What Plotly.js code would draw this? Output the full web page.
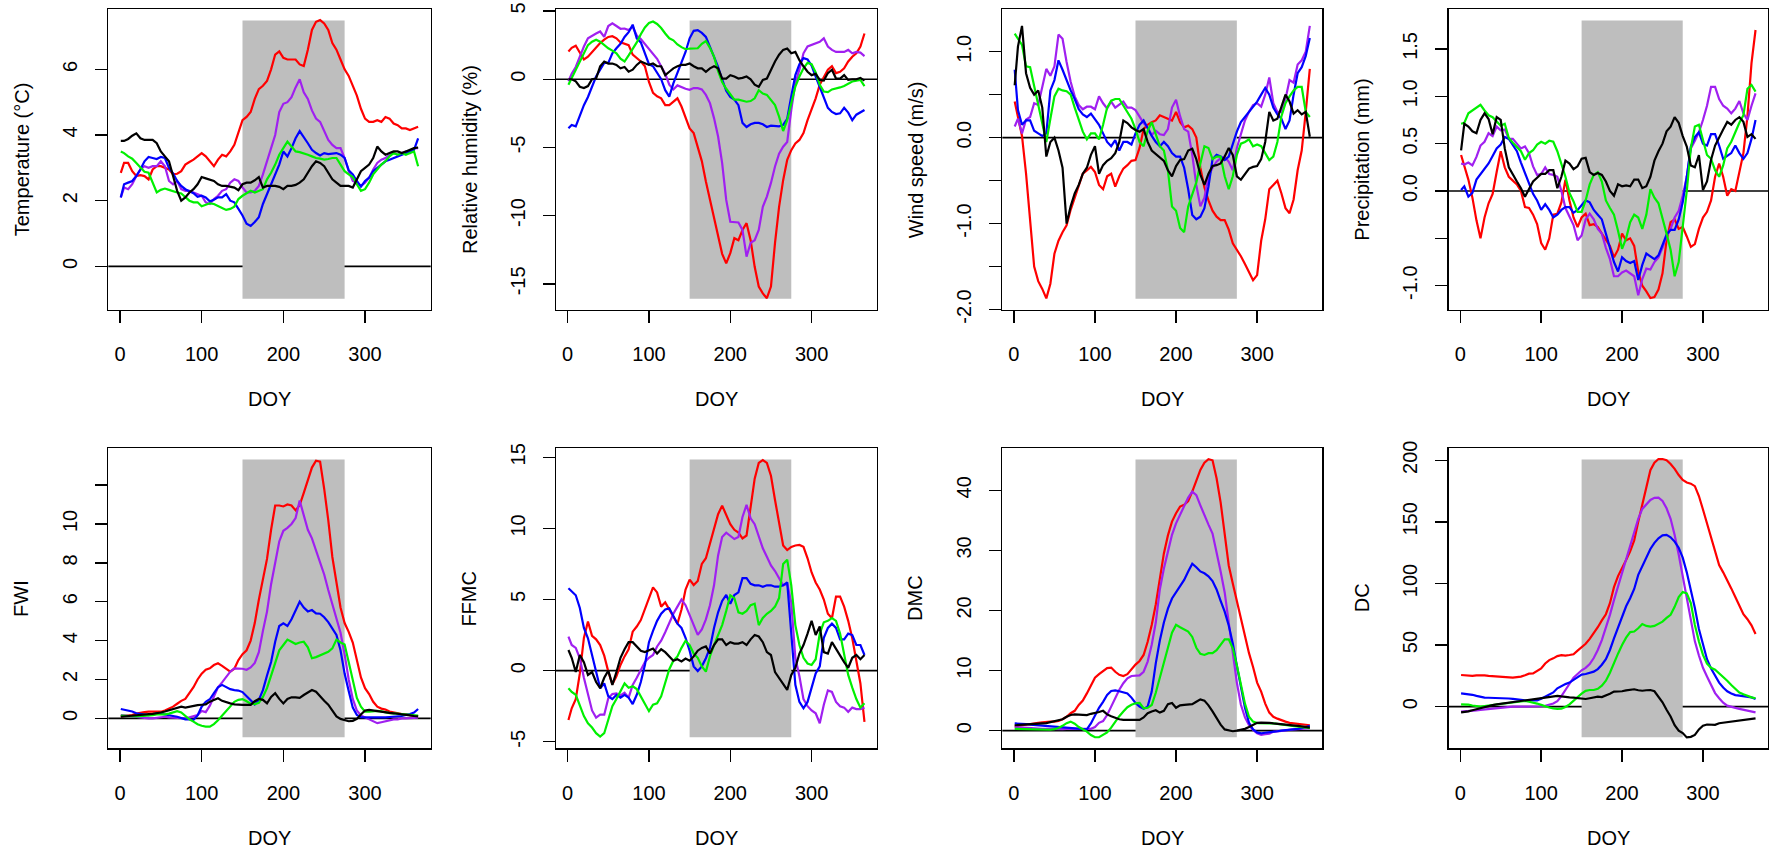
<!DOCTYPE html>
<html>
<head>
<meta charset="utf-8">
<script src="https://cdn.plot.ly/plotly-3.0.1.min.js"></script>
<style>
  html, body { margin: 0; padding: 0; background: #ffffff; }
  #chart { width: 1769px; height: 850px; }
</style>
</head>
<body>
<div id="chart"></div>
<script>
// ---------------- DATA ----------------
const DOY = [1,5,10,15,20,25,30,35,40,45,50,55,60,65,70,75,80,85,90,95,100,105,110,115,120,125,130,135,140,145,150,155,160,165,170,175,180,185,190,195,200,205,210,215,220,225,230,235,240,245,250,255,260,265,270,275,280,285,290,295,300,305,310,315,320,325,330,335,340,345,350,355,360,365];
const fireSeason = [150, 275];

const doyTicks = [0, 100, 200, 300];
const doyTickLabels = ['0', '100', '200', '300'];

// Temperature (°C)
const tempRed = [2.85,3.15,3.15,2.9,2.75,2.78,2.75,2.65,2.95,3.05,3.05,3.0,2.95,2.8,2.82,2.9,3.1,3.18,3.25,3.35,3.45,3.35,3.2,3.05,3.25,3.4,3.35,3.5,3.7,4.1,4.45,4.55,4.7,5.1,5.4,5.5,5.65,6.0,6.45,6.55,6.35,6.3,6.3,6.3,6.15,6.1,6.6,7.2,7.45,7.5,7.4,7.2,6.8,6.6,6.3,6.0,5.8,5.5,5.2,4.8,4.5,4.4,4.4,4.45,4.4,4.55,4.5,4.35,4.3,4.2,4.2,4.15,4.2,4.25];
const tempPurple = [2.1,2.4,2.35,2.5,2.75,2.95,3.05,3.0,3.05,3.05,3.2,3.05,2.6,2.5,2.6,2.35,2.3,2.3,2.25,2.2,2.15,1.95,1.9,2.05,2.15,2.3,2.35,2.55,2.65,2.6,2.4,2.25,2.25,2.3,2.45,2.8,3.2,3.65,4.0,4.7,4.95,5.0,5.15,5.45,5.7,5.3,5.1,4.75,4.5,4.4,4.1,3.85,3.7,3.6,3.6,3.3,2.9,2.6,2.55,2.45,2.55,2.7,2.95,3.15,3.25,3.3,3.4,3.45,3.4,3.45,3.5,3.45,3.6,3.6];
const tempBlue = [2.1,2.5,2.55,2.6,2.75,2.95,3.2,3.33,3.3,3.27,3.33,3.3,3.0,2.83,2.6,2.45,2.35,2.3,2.23,2.12,2.15,2.1,1.98,2.03,2.1,2.1,2.2,2.0,1.95,1.75,1.55,1.3,1.23,1.35,1.5,1.9,2.2,2.45,2.8,3.1,3.5,3.35,3.6,3.9,4.12,3.95,3.75,3.55,3.45,3.38,3.45,3.42,3.43,3.45,3.4,3.3,2.93,2.8,2.6,2.43,2.6,2.7,2.9,3.0,3.1,3.2,3.25,3.3,3.35,3.4,3.45,3.5,3.55,3.9];
const tempGreen = [3.5,3.45,3.35,3.28,3.15,3.0,2.88,2.85,2.55,2.25,2.33,2.37,2.33,2.28,2.25,2.22,2.1,2.0,1.95,1.95,1.83,1.88,1.92,1.9,1.85,1.78,1.72,1.75,1.82,2.05,2.15,2.22,2.3,2.25,2.3,2.35,2.65,2.85,3.1,3.4,3.6,3.8,3.65,3.5,3.48,3.45,3.4,3.35,3.3,3.28,3.25,3.27,3.3,3.3,3.1,2.9,2.8,2.72,2.5,2.3,2.35,2.55,2.8,2.95,3.1,3.2,3.35,3.45,3.4,3.45,3.4,3.45,3.5,3.05];
const tempBlack = [3.82,3.82,3.88,3.98,4.05,3.9,3.85,3.85,3.85,3.75,3.5,3.35,3.2,2.75,2.3,2.0,2.1,2.25,2.35,2.5,2.72,2.68,2.65,2.6,2.5,2.45,2.45,2.42,2.4,2.32,2.5,2.55,2.55,2.62,2.72,2.4,2.45,2.45,2.45,2.42,2.35,2.45,2.45,2.48,2.55,2.65,2.85,3.05,3.2,3.15,3.05,2.85,2.65,2.55,2.45,2.45,2.45,2.4,2.65,2.9,3.0,3.1,3.3,3.65,3.5,3.4,3.45,3.5,3.5,3.45,3.5,3.55,3.6,3.62];
const tempTicks = [0, 2, 4, 6];
const tempTickLabels = ['0', '2', '4', '6'];

// Relative humidity (%)
const rhRed = [2.03,2.3,2.45,1.9,1.45,1.65,2.0,2.3,2.65,2.9,3.1,3.15,3.0,2.7,2.6,2.5,1.8,1.55,1.3,0.95,-0.2,-1.0,-1.25,-1.4,-1.9,-1.9,-1.65,-1.4,-2.0,-2.75,-3.6,-3.95,-4.95,-6.0,-7.5,-8.8,-10.0,-11.5,-12.8,-13.5,-12.75,-11.65,-11.8,-11.05,-10.55,-11.8,-13.75,-15.2,-15.7,-16.05,-15.2,-12.0,-9.35,-7.4,-5.9,-5.2,-4.7,-4.45,-3.95,-3.0,-2.25,-1.4,-0.4,0.2,0.7,0.95,0.45,0.55,0.8,1.3,1.65,1.9,2.4,3.35];
const rhPurple = [-0.15,0.4,0.9,1.65,2.4,3.0,3.2,3.35,3.5,3.1,3.9,4.1,3.9,3.7,3.72,3.6,3.85,3.2,2.95,2.6,2.2,1.9,1.5,0.95,0.4,-0.4,-0.75,-0.45,-0.6,-0.7,-0.78,-0.65,-0.65,-0.75,-1.15,-1.75,-2.85,-4.2,-6.15,-8.85,-10.45,-10.45,-10.5,-11.05,-13.0,-12.0,-11.8,-11.05,-9.35,-8.6,-7.6,-6.4,-5.45,-4.95,-4.6,-2.25,-0.3,0.7,1.9,2.4,2.5,2.65,2.75,3.0,2.4,2.15,2.0,2.0,2.0,2.15,1.9,2.0,1.95,1.7];
const rhBlue = [-3.6,-3.35,-3.45,-2.7,-1.9,-1.3,-0.6,0.2,0.7,1.2,1.2,1.9,2.27,2.6,3.1,3.45,4.0,3.0,2.7,1.9,1.1,0.95,0.5,0.0,-0.8,-1.27,-0.3,0.45,1.2,2.0,3.0,3.55,3.6,3.4,3.1,2.4,1.7,0.9,0.0,-0.85,-1.3,-1.5,-1.9,-3.2,-3.5,-3.3,-3.2,-3.2,-3.3,-3.5,-3.4,-3.4,-3.45,-3.35,-2.9,-1.25,0.3,1.1,1.55,1.45,1.0,0.2,-0.55,-1.3,-2.1,-2.4,-2.55,-2.5,-2.1,-2.45,-3.0,-2.6,-2.4,-2.25];
const rhGreen = [-0.4,0.1,0.6,1.3,1.95,2.5,2.75,2.9,2.75,2.5,2.27,2.1,1.9,1.5,1.3,1.75,2.2,2.7,3.3,3.8,4.12,4.23,4.05,3.75,3.35,3.0,2.85,2.55,2.35,2.2,2.25,2.27,2.27,2.6,2.8,2.3,1.66,0.6,-0.2,-0.7,-1.1,-1.5,-1.5,-1.6,-1.65,-1.6,-1.4,-0.8,-1.05,-1.15,-1.5,-1.9,-2.74,-3.8,-3.0,-1.8,-0.54,0.2,0.8,1.2,1.1,0.5,-0.4,-0.9,-0.95,-0.75,-0.7,-0.6,-0.5,-0.35,-0.17,-0.1,-0.05,-0.5];
const rhBlack = [0.0,0.0,-0.15,-0.55,-0.65,-0.5,0.0,0.05,0.95,1.3,1.15,1.15,1.05,0.8,0.9,0.55,0.7,1.05,1.3,1.2,1.05,1.15,0.95,0.95,0.3,0.55,0.8,0.95,1.05,1.05,1.15,0.95,0.8,0.8,0.55,0.8,0.95,0.8,0.05,0.05,0.3,0.2,0.05,0.1,0.2,0.0,-0.4,-0.55,-0.05,0.05,0.7,1.3,1.8,2.15,2.25,1.9,2.0,1.4,0.95,0.55,0.3,0.4,-0.05,-0.1,0.45,0.7,0.05,0.05,0.3,-0.05,0.0,0.0,0.1,-0.1];
const rhTicks = [-15, -10, -5, 0, 5];
const rhTickLabels = ['-15', '-10', '-5', '0', '5'];

// Wind speed (m/s)
const windRed = [0.42,0.24,0.02,-0.42,-0.97,-1.5,-1.67,-1.76,-1.87,-1.7,-1.35,-1.2,-1.1,-1.02,-0.84,-0.7,-0.55,-0.42,-0.38,-0.34,-0.4,-0.55,-0.6,-0.45,-0.42,-0.57,-0.45,-0.36,-0.32,-0.27,-0.26,-0.12,0.1,0.15,0.18,0.2,0.26,0.24,0.22,0.2,0.3,0.18,0.12,0.14,0.1,0.0,-0.35,-0.58,-0.73,-0.85,-0.92,-0.96,-0.96,-1.07,-1.23,-1.3,-1.38,-1.47,-1.57,-1.66,-1.6,-1.2,-0.95,-0.6,-0.55,-0.5,-0.65,-0.82,-0.88,-0.72,-0.38,-0.15,0.3,0.8];
const windPurple = [0.13,0.22,0.05,0.21,0.24,0.4,0.38,0.6,0.8,0.72,0.83,1.2,1.15,0.88,0.65,0.48,0.38,0.33,0.36,0.36,0.33,0.48,0.4,0.34,0.42,0.35,0.38,0.42,0.35,0.35,0.32,0.24,0.17,0.12,0.03,0.08,0.04,0.03,0.1,0.35,0.44,0.25,0.1,0.07,-0.2,-0.55,-0.8,-0.7,-0.45,-0.35,-0.28,-0.24,-0.22,-0.28,-0.38,-0.12,0.05,0.2,0.3,0.38,0.4,0.36,0.5,0.7,0.4,0.3,0.3,0.45,0.67,0.64,0.85,0.9,1.0,1.3];
const windBlue = [0.79,0.32,0.15,0.2,0.2,0.08,0.05,0.02,0.05,0.55,0.67,0.9,0.79,0.66,0.55,0.45,0.33,0.27,0.24,0.28,0.22,0.15,0.05,-0.05,-0.1,-0.03,-0.15,-0.05,-0.05,-0.08,0.05,0.15,0.2,0.1,0.02,-0.05,-0.1,-0.05,-0.1,-0.18,-0.22,-0.22,-0.35,-0.6,-0.9,-0.95,-0.92,-0.82,-0.57,-0.25,-0.2,-0.22,-0.26,-0.22,-0.07,0.07,0.18,0.24,0.3,0.36,0.42,0.5,0.58,0.5,0.35,0.27,0.22,0.1,0.2,0.5,0.75,0.82,0.95,1.16];
const windGreen = [1.21,1.15,1.08,0.83,0.82,0.6,0.37,0.15,-0.05,0.22,0.48,0.57,0.55,0.54,0.5,0.35,0.22,0.07,-0.02,0.05,0.05,-0.02,0.15,0.35,0.43,0.45,0.45,0.37,0.3,0.22,0.1,-0.05,-0.1,0.08,0.18,0.05,-0.1,-0.15,-0.38,-0.8,-0.85,-1.05,-1.1,-0.8,-0.65,-0.52,-0.3,-0.1,-0.12,-0.25,-0.22,-0.22,-0.45,-0.6,-0.45,-0.2,-0.07,-0.05,-0.02,-0.1,-0.08,-0.1,-0.18,-0.26,-0.22,-0.05,0.25,0.4,0.48,0.55,0.59,0.59,0.3,0.24];
const windBlack = [0.61,1.06,1.3,0.75,0.58,0.5,0.55,0.35,-0.22,-0.05,0.0,-0.15,-0.35,-1.0,-0.8,-0.65,-0.55,-0.42,-0.35,-0.2,-0.1,-0.42,-0.32,-0.27,-0.24,-0.18,-0.05,0.2,0.17,0.12,0.09,0.07,0.1,-0.05,-0.15,-0.19,-0.22,-0.27,-0.38,-0.45,-0.33,-0.26,-0.25,-0.15,-0.13,-0.25,-0.43,-0.55,-0.42,-0.33,-0.32,-0.3,-0.22,-0.12,-0.2,-0.45,-0.49,-0.42,-0.36,-0.34,-0.33,-0.25,-0.05,0.3,0.2,0.22,0.35,0.5,0.42,0.28,0.32,0.27,0.3,0.01];
const windTicks = [-2, -1.5, -1, -0.5, 0, 0.5, 1];
const windTickLabels = ['-2.0', '', '-1.0', '', '0.0', '', '1.0'];

// Precipitation (mm)
const precRed = [0.38,0.27,0.12,-0.07,-0.31,-0.5,-0.28,-0.13,-0.03,0.2,0.42,0.25,0.15,0.11,0.07,0.0,-0.17,-0.18,-0.25,-0.35,-0.55,-0.62,-0.5,-0.25,-0.24,-0.12,0.12,-0.1,-0.28,-0.38,-0.28,-0.24,-0.36,-0.35,-0.38,-0.45,-0.52,-0.58,-0.7,-0.62,-0.45,-0.52,-0.5,-0.58,-0.85,-1.0,-1.06,-1.13,-1.12,-1.04,-0.87,-0.52,-0.33,-0.3,-0.4,-0.38,-0.48,-0.59,-0.56,-0.4,-0.28,-0.22,-0.1,0.15,0.29,0.15,-0.05,0.02,0.0,0.2,0.4,0.79,1.35,1.7];
const precPurple = [0.29,0.28,0.3,0.27,0.36,0.48,0.52,0.61,0.58,0.68,0.64,0.65,0.55,0.55,0.5,0.45,0.47,0.4,0.26,0.17,0.18,0.25,0.18,0.17,0.15,0.0,-0.18,-0.28,-0.36,-0.52,-0.47,-0.3,-0.24,-0.3,-0.4,-0.45,-0.6,-0.72,-0.9,-0.9,-0.86,-0.84,-0.87,-0.9,-1.1,-0.93,-0.82,-0.83,-0.75,-0.7,-0.6,-0.48,-0.4,-0.28,-0.21,-0.05,0.15,0.45,0.53,0.62,0.75,0.9,1.1,1.1,0.97,0.9,0.87,0.82,0.87,0.95,0.82,0.75,0.9,1.03];
const precBlue = [0.01,0.05,-0.06,-0.02,0.12,0.18,0.23,0.29,0.37,0.45,0.49,0.57,0.55,0.48,0.42,0.3,0.18,0.08,-0.03,-0.1,-0.2,-0.14,-0.2,-0.28,-0.25,-0.2,-0.17,-0.17,-0.23,-0.2,-0.15,-0.1,-0.12,-0.2,-0.25,-0.3,-0.45,-0.6,-0.75,-0.85,-0.7,-0.74,-0.76,-0.74,-0.94,-0.78,-0.66,-0.69,-0.72,-0.68,-0.56,-0.46,-0.41,-0.41,-0.3,-0.12,0.15,0.47,0.57,0.62,0.5,0.48,0.6,0.6,0.48,0.34,0.37,0.4,0.48,0.4,0.34,0.4,0.55,0.75];
const precGreen = [0.71,0.72,0.82,0.85,0.88,0.91,0.85,0.8,0.78,0.73,0.69,0.71,0.56,0.51,0.47,0.42,0.33,0.4,0.43,0.49,0.52,0.5,0.53,0.52,0.42,0.28,0.15,-0.02,-0.11,-0.22,-0.22,-0.1,0.07,0.17,0.2,0.1,-0.1,-0.18,-0.25,-0.42,-0.61,-0.5,-0.33,-0.25,-0.28,-0.4,-0.25,0.02,-0.07,-0.13,-0.28,-0.45,-0.62,-0.9,-0.75,-0.4,0.0,0.45,0.68,0.7,0.55,0.38,0.34,0.22,0.15,0.27,0.45,0.52,0.62,0.72,0.8,1.08,1.12,1.05];
const precBlack = [0.43,0.71,0.68,0.63,0.61,0.75,0.82,0.76,0.6,0.78,0.75,0.45,0.25,0.17,0.1,0.03,-0.06,0.02,0.1,0.14,0.18,0.18,0.22,0.22,0.03,0.15,0.32,0.29,0.23,0.26,0.34,0.35,0.2,0.17,0.19,0.17,0.1,0.0,-0.05,0.07,0.05,0.06,0.05,0.12,0.12,0.03,0.05,0.15,0.32,0.42,0.5,0.63,0.68,0.78,0.72,0.58,0.47,0.27,0.25,0.38,0.01,0.1,0.33,0.48,0.57,0.65,0.73,0.7,0.75,0.78,0.73,0.57,0.6,0.55];
const precTicks = [-1, -0.5, 0, 0.5, 1, 1.5];
const precTickLabels = ['-1.0', '', '0.0', '0.5', '1.0', '1.5'];

// FWI
const fwiRed = [0.1,0.12,0.15,0.17,0.25,0.3,0.32,0.34,0.34,0.34,0.34,0.4,0.5,0.6,0.75,0.9,1.0,1.3,1.6,2.0,2.3,2.5,2.57,2.74,2.83,2.7,2.55,2.4,2.55,3.0,3.3,3.5,4.0,4.9,6.1,7.2,8.2,9.7,10.95,10.95,10.9,11.0,10.95,10.7,10.97,11.6,12.3,12.9,13.25,13.2,11.8,10.2,8.3,6.9,5.7,4.9,4.45,3.9,3.0,2.1,1.55,1.25,0.85,0.6,0.5,0.45,0.35,0.3,0.27,0.22,0.2,0.15,0.12,0.1];
const fwiPurple = [0.17,0.15,0.1,0.08,0.06,0.05,0.03,0.0,0.0,0.02,0.06,0.08,0.05,0.04,0.03,0.0,0.0,0.05,0.1,0.17,0.38,0.32,0.65,1.1,1.6,1.85,2.1,2.4,2.57,2.57,2.55,2.5,2.62,2.85,3.4,4.5,5.49,6.9,8.1,9.1,9.65,9.8,10.0,10.3,11.2,10.5,9.7,9.26,8.6,7.95,7.4,6.6,5.9,5.1,4.4,3.3,2.0,1.0,0.4,0.15,0.05,-0.05,-0.15,-0.25,-0.2,-0.15,-0.1,-0.05,-0.05,0.0,0.0,0.02,0.03,0.03];
const fwiBlue = [0.48,0.45,0.4,0.35,0.26,0.22,0.19,0.17,0.2,0.26,0.24,0.21,0.18,0.12,0.08,0.0,-0.05,-0.05,-0.08,0.15,0.6,0.85,0.98,1.3,1.6,1.72,1.6,1.5,1.45,1.43,1.35,1.15,0.9,0.72,0.95,1.45,2.2,2.9,3.94,4.75,4.89,4.75,5.1,5.55,6.0,5.7,5.5,5.57,5.4,5.38,5.2,4.95,4.6,4.29,3.5,2.3,1.4,0.55,0.17,0.06,0.05,0.05,0.04,0.03,0.04,0.05,0.07,0.08,0.1,0.12,0.18,0.22,0.3,0.48];
const fwiGreen = [0.14,0.13,0.11,0.1,0.1,0.11,0.12,0.13,0.16,0.2,0.2,0.2,0.24,0.31,0.37,0.3,0.12,-0.05,-0.17,-0.3,-0.38,-0.43,-0.43,-0.3,-0.1,0.15,0.4,0.65,0.85,0.95,0.99,0.88,0.75,0.73,0.8,1.1,1.55,2.2,2.9,3.5,3.77,4.05,3.94,3.82,3.9,3.94,3.65,3.09,3.15,3.25,3.33,3.42,3.6,4.05,3.9,3.8,2.9,1.9,1.05,0.6,0.34,0.34,0.36,0.38,0.36,0.3,0.27,0.25,0.23,0.21,0.19,0.17,0.15,0.14];
const fwiBlack = [0.08,0.1,0.12,0.13,0.15,0.17,0.2,0.22,0.23,0.25,0.3,0.35,0.42,0.5,0.57,0.6,0.55,0.6,0.65,0.68,0.7,0.72,0.86,0.94,1.03,0.9,0.82,0.77,0.72,0.69,0.69,0.69,0.69,0.88,1.0,0.95,0.77,1.1,1.29,1.0,0.77,1.0,1.08,1.08,1.05,1.2,1.35,1.46,1.37,1.11,0.9,0.7,0.4,0.1,-0.03,-0.08,-0.15,-0.13,-0.03,0.2,0.4,0.43,0.4,0.34,0.32,0.3,0.28,0.26,0.24,0.22,0.2,0.15,0.12,0.1];
const fwiTicks = [0, 2, 4, 6, 8, 10, 12];
const fwiTickLabels = ['0', '2', '4', '6', '8', '10', ''];

// FFMC
const ffmcRed = [-3.47,-2.65,-2.0,-0.2,2.3,3.45,2.45,2.2,1.8,1.05,-0.07,-0.95,-0.4,0.4,1.0,1.5,2.74,3.1,3.55,4.3,5.1,5.85,5.5,4.5,4.8,4.27,3.8,3.3,4.3,5.7,6.4,6.02,6.3,7.5,7.9,9.0,10.1,11.0,11.6,11.0,10.3,9.9,9.7,9.3,9.5,11.5,13.5,14.6,14.8,14.6,13.7,12.0,10.3,8.8,8.48,8.7,8.8,8.84,8.7,7.9,6.9,6.2,5.7,5.0,4.0,3.68,5.2,5.2,4.5,3.5,2.27,0.7,-0.9,-3.6];
const ffmcPurple = [2.39,1.8,1.6,0.87,-0.5,-1.7,-2.8,-3.3,-3.1,-3.1,-1.95,-1.65,-1.6,-1.75,-1.55,-1.9,-1.0,-0.5,0.0,0.6,0.9,1.1,1.7,2.1,2.7,3.4,4.0,4.5,5.0,4.6,3.9,3.1,2.51,2.9,3.6,4.6,6.0,8.1,9.4,9.7,9.5,9.25,9.4,10.8,11.65,10.71,10.3,9.4,8.6,8.0,7.4,7.0,6.5,6.0,6.1,4.8,0.9,-0.4,-2.0,-2.5,-2.8,-3.0,-3.7,-2.4,-1.4,-1.5,-2.2,-2.5,-2.6,-2.9,-2.6,-2.7,-2.7,-2.6];
const ffmcBlue = [5.79,5.55,5.3,4.4,3.0,2.27,1.1,-0.1,-1.24,-0.9,-1.8,-2.0,-1.71,-1.9,-1.7,-1.9,-2.35,-1.7,-0.8,0.4,2.0,2.8,3.5,4.0,4.3,4.38,3.8,3.3,3.0,2.3,1.4,0.3,-0.03,0.3,0.87,1.6,3.0,4.1,4.9,5.32,4.7,5.32,5.5,6.5,6.5,6.1,6.0,6.0,5.9,6.0,6.0,5.9,5.9,6.0,6.2,2.5,-1.0,-2.2,-2.65,-2.2,-1.1,-0.2,0.3,2.3,3.0,3.3,3.0,2.2,2.2,2.6,2.5,1.8,1.8,1.1];
const ffmcGreen = [-1.24,-1.5,-1.7,-2.4,-3.2,-3.7,-4.0,-4.4,-4.64,-4.4,-3.4,-2.5,-2.0,-1.4,-0.9,-1.2,-1.1,-1.3,-1.8,-2.4,-2.85,-2.4,-2.3,-1.8,-0.8,0.1,0.7,1.0,1.6,2.1,1.8,1.2,0.9,0.3,-0.07,1.0,1.8,2.5,3.2,4.2,5.3,5.1,4.1,4.0,4.2,4.6,4.7,3.2,3.7,4.0,4.2,4.5,5.1,7.5,7.8,6.0,3.2,1.8,0.9,0.5,0.4,0.8,2.6,3.4,3.5,3.7,3.5,2.6,1.1,-0.3,-1.2,-2.0,-2.6,-2.3];
const ffmcBlack = [1.45,0.9,-0.1,1.1,0.6,-0.3,-0.1,-0.8,-1.24,-0.5,0.0,-1.0,-0.1,0.9,1.5,2.0,2.0,1.7,1.4,1.3,1.4,1.55,1.2,1.5,1.3,1.0,0.7,0.8,0.65,0.85,0.7,1.0,1.4,1.6,1.7,1.2,1.8,2.2,2.2,1.8,2.0,1.9,1.9,2.0,1.8,2.2,2.5,2.4,2.0,1.3,1.1,-0.1,-0.5,-0.9,-1.36,-0.3,0.2,1.2,1.8,2.6,3.5,2.5,3.1,1.3,1.2,2.0,1.5,1.0,0.6,0.2,0.9,1.1,0.8,1.1];
const ffmcTicks = [-5, 0, 5, 10, 15];
const ffmcTickLabels = ['-5', '0', '5', '10', '15'];

// DMC
const dmcRed = [0.7,0.8,0.9,1.0,1.05,1.2,1.3,1.4,1.5,1.5,1.5,1.6,1.9,2.3,2.9,3.3,4.27,5.0,6.2,7.5,8.8,9.4,9.9,10.4,10.5,9.8,9.3,9.1,9.4,10.3,11.0,11.6,12.6,14.8,17.6,21.0,25.0,29.5,32.5,34.8,36.2,37.3,37.6,38.2,39.8,41.6,43.4,44.6,45.2,45.0,42.0,38.0,32.5,27.5,24.5,21.6,18.7,16.3,12.9,10.6,8.0,6.5,4.5,3.0,2.3,2.0,1.7,1.5,1.3,1.2,1.1,1.0,0.95,0.9];
const dmcPurple = [0.6,0.55,0.5,0.45,0.4,0.38,0.35,0.3,0.28,0.25,0.22,0.22,0.25,0.28,0.3,0.3,0.35,0.35,0.35,0.3,0.6,1.3,1.6,2.6,4.0,5.4,6.8,7.9,8.7,9.1,9.15,9.2,9.8,11.5,14.3,18.0,23.5,27.0,29.8,32.6,34.5,36.0,37.5,38.8,39.8,39.2,37.5,35.8,34.3,32.8,29.8,26.5,23.0,18.0,13.0,8.0,4.3,2.2,0.9,0.1,-0.45,-0.7,-0.6,-0.5,-0.2,-0.1,0.0,0.1,0.1,0.2,0.25,0.3,0.35,0.4];
const dmcBlue = [1.2,1.2,1.1,1.1,1.0,0.95,0.9,0.85,0.8,0.75,0.7,0.65,0.6,0.5,0.4,0.35,0.3,0.25,0.2,1.2,2.6,3.8,4.8,5.94,6.6,6.7,6.55,6.4,6.2,5.5,4.6,4.0,3.65,4.0,6.5,11.2,15.0,18.0,20.3,22.0,23.0,24.0,25.1,26.5,27.8,27.2,26.5,26.2,25.7,24.9,23.5,21.6,19.8,17.5,14.5,10.8,7.2,3.8,1.3,0.2,-0.3,-0.44,-0.35,-0.3,-0.2,-0.1,0.0,0.05,0.1,0.2,0.3,0.4,0.55,0.8];
const dmcGreen = [0.3,0.28,0.25,0.22,0.2,0.17,0.15,0.12,0.1,0.15,0.25,0.45,0.8,1.25,1.5,1.15,0.6,0.2,-0.15,-0.72,-1.1,-1.1,-0.7,-0.3,0.5,1.5,2.4,3.2,3.9,4.3,4.55,4.6,3.72,3.8,4.27,6.3,8.7,11.0,13.8,16.3,17.6,17.2,16.8,16.5,15.6,13.8,12.8,12.6,12.9,12.9,13.4,14.3,15.2,15.2,13.7,10.9,7.6,4.5,2.3,1.5,1.25,1.2,1.2,1.2,1.2,1.1,1.0,0.9,0.8,0.7,0.6,0.5,0.45,0.4];
const dmcBlack = [0.9,0.95,1.0,1.05,1.05,1.1,1.15,1.2,1.25,1.4,1.5,1.7,1.9,2.3,2.6,2.7,2.7,2.6,2.6,2.8,2.9,3.1,3.3,2.7,2.4,2.1,1.9,1.8,1.8,1.8,1.9,1.8,2.2,2.9,3.2,3.4,3.0,3.3,4.4,4.6,3.8,4.2,4.3,4.3,4.4,4.8,5.2,5.0,4.2,3.2,2.0,1.0,0.2,0.0,-0.1,0.0,0.1,0.3,0.6,1.0,1.3,1.35,1.35,1.3,1.2,1.15,1.1,1.05,1.0,0.9,0.8,0.7,0.6,0.5];
const dmcTicks = [0, 10, 20, 30, 40];
const dmcTickLabels = ['0', '10', '20', '30', '40'];

// DC
const dcRed = [25.7,25.4,25.2,25.0,25.3,25.6,25.4,25.0,24.8,24.5,24.0,23.6,23.5,23.6,24.0,24.4,25.5,26.8,27.0,29.0,31.0,35.0,37.8,39.2,41.0,41.8,41.4,41.9,42.5,45.5,48.5,51.0,55.0,59.5,64.5,70.0,75.0,84.0,97.0,106.0,112.0,119.0,126.0,135.0,150.0,164.0,178.0,192.0,198.0,201.0,201.0,200.0,197.0,193.0,188.0,184.0,182.0,181.0,179.0,171.0,160.0,149.0,137.0,126.0,115.0,109.0,103.0,96.0,89.0,82.5,75.0,71.0,66.0,59.0];
const dcPurple = [-4.0,-3.9,-3.7,-3.3,-3.0,-2.6,-2.2,-1.8,-1.5,-1.2,-1.0,-0.7,-0.4,0.0,0.0,0.0,0.0,0.0,0.0,0.2,0.3,0.7,1.3,2.5,4.5,8.5,13.5,18.5,23.5,26.5,29.5,31.5,34.5,39.5,46.0,54.0,63.5,74.5,86.5,97.5,109.0,120.0,131.0,142.5,152.5,160.5,164.5,167.8,169.5,169.6,167.0,161.0,152.5,139.4,123.5,106.0,88.0,69.0,53.0,41.5,31.5,24.5,17.5,11.0,6.8,3.2,0.8,-0.3,-1.0,-1.8,-2.5,-3.2,-3.8,-4.6];
const dcBlue = [10.8,10.6,10.3,9.6,8.7,7.8,7.3,7.2,7.2,7.1,7.0,6.8,6.6,6.3,5.8,5.5,5.1,5.0,5.0,5.1,6.5,8.0,10.0,11.5,14.9,16.8,18.3,19.5,21.8,24.1,26.0,26.5,27.2,28.4,30.5,34.0,38.5,46.0,55.5,64.5,74.0,81.5,88.0,95.5,107.0,114.5,122.0,128.0,133.0,136.7,139.0,139.4,137.5,134.0,129.0,121.0,109.0,95.0,80.0,63.0,50.0,38.5,31.0,25.0,19.5,15.5,12.5,10.7,9.4,9.0,8.7,8.2,7.5,6.2];
const dcGreen = [1.9,1.9,1.6,0.9,0.2,0.0,0.5,0.9,1.4,2.0,2.2,2.9,3.5,3.8,4.2,4.5,4.6,4.0,3.5,2.5,1.4,0.2,-0.7,-1.4,-1.9,-1.6,-0.3,1.9,5.0,7.5,10.5,12.8,13.5,13.5,14.5,17.0,21.0,27.5,36.0,43.0,50.0,56.0,60.5,61.0,63.6,67.0,65.5,65.0,65.5,67.0,69.0,72.0,74.5,81.0,89.0,93.0,92.0,84.0,66.3,53.0,42.0,35.0,31.5,30.0,27.1,24.0,21.0,17.5,14.5,11.5,10.0,8.5,7.5,6.8];
const dcBlack = [-4.6,-4.4,-3.8,-2.9,-2.0,-1.2,-0.2,0.7,1.25,1.8,2.25,2.6,3.0,3.5,4.2,4.8,5.2,5.7,6.2,6.6,6.9,7.2,7.7,8.2,8.8,8.3,7.7,7.5,7.3,6.8,6.5,6.2,6.8,7.3,8.1,7.8,9.0,10.5,12.2,12.2,12.5,13.2,13.6,14.1,13.3,12.9,13.3,13.5,12.5,8.1,3.5,-2.5,-8.0,-15.0,-19.5,-21.5,-25.0,-24.5,-23.0,-18.5,-15.5,-14.5,-14.5,-14.8,-13.5,-13.0,-12.7,-12.3,-12.0,-11.4,-10.8,-10.4,-10.0,-9.5];
const dcTicks = [0, 50, 100, 150, 200];
const dcTickLabels = ['0', '50', '100', '150', '200'];

const yTitles = ['Temperature (°C)', 'Relative humidity (%)', 'Wind speed (m/s)', 'Precipitation (mm)', 'FWI', 'FFMC', 'DMC', 'DC'];
const xTitle = 'DOY';

// ---------------- LAYOUT / STYLE ----------------
const W = 1769, H = 850;
const colLeftPx = [108.3, 556, 1002.3, 1448.7];
const colRightPx = [430.7, 877, 1322.3, 1768];
const rowTopPx = [9.3, 448.3];
const rowBottomPx = [310, 748.3];
const xRange = [-14.3, 380.4];
const lineColors = ['#FF0000', '#A020F0', '#0000FF', '#00F000', '#000000'];
const FONT = 'Liberation Sans, Arial, Helvetica, sans-serif';

const panels = [
  { series: [tempRed, tempPurple, tempBlue, tempGreen, tempBlack], ylim: [-0.99, 7.49], ticks: tempTicks, labels: tempTickLabels },
  { series: [rhRed, rhPurple, rhBlue, rhGreen, rhBlack], ylim: [-16.1, 4.31], ticks: rhTicks, labels: rhTickLabels },
  { series: [windRed, windPurple, windBlue, windGreen, windBlack], ylim: [-1.876, 1.364], ticks: windTicks, labels: windTickLabels },
  { series: [precRed, precPurple, precBlue, precGreen, precBlack], ylim: [-1.139, 1.801], ticks: precTicks, labels: precTickLabels },
  { series: [fwiRed, fwiPurple, fwiBlue, fwiGreen, fwiBlack], ylim: [-0.97, 13.32], ticks: fwiTicks, labels: fwiTickLabels },
  { series: [ffmcRed, ffmcPurple, ffmcBlue, ffmcGreen, ffmcBlack], ylim: [-4.68, 14.85], ticks: ffmcTicks, labels: ffmcTickLabels },
  { series: [dmcRed, dmcPurple, dmcBlue, dmcGreen, dmcBlack], ylim: [-1.09, 45.15], ticks: dmcTicks, labels: dmcTickLabels },
  { series: [dcRed, dcPurple, dcBlue, dcGreen, dcBlack], ylim: [-24.8, 200.7], ticks: dcTicks, labels: dcTickLabels }
];

const traces = [];
const shapes = [];
const annotations = [];
const layout = {
  width: W, height: H,
  margin: { l: 0, r: 0, t: 0, b: 0, pad: 0 },
  paper_bgcolor: '#ffffff',
  plot_bgcolor: '#ffffff',
  showlegend: false,
  font: { family: FONT, size: 20, color: '#000000' },
  shapes: shapes,
  annotations: annotations
};

panels.forEach((p, i) => {
  const n = i + 1;
  const sfx = n === 1 ? '' : String(n);
  const row = Math.floor(i / 4), col = i % 4;
  const lo = p.ylim[0], hi = p.ylim[1];
  const ext = 0.04 * (hi - lo);

  layout['xaxis' + sfx] = {
    domain: [colLeftPx[col] / W, colRightPx[col] / W],
    range: xRange, anchor: 'y' + sfx,
    tickmode: 'array', tickvals: doyTicks, ticktext: doyTickLabels,
    ticks: 'outside', ticklen: 12, tickwidth: 1.4, tickcolor: '#000000',
    ticklabelstandoff: 14,
    showline: true, mirror: true, linecolor: '#000000', linewidth: 1.4,
    showgrid: false, zeroline: false, fixedrange: true,
    tickfont: { family: FONT, size: 20, color: '#000000' }
  };
  layout['yaxis' + sfx] = {
    domain: [(H - rowBottomPx[row]) / H, (H - rowTopPx[row]) / H],
    range: [lo - ext, hi + ext], anchor: 'x' + sfx,
    tickmode: 'array', tickvals: p.ticks, ticktext: p.labels,
    tickangle: -90,
    ticks: 'outside', ticklen: 12, tickwidth: 1.4, tickcolor: '#000000',
    ticklabelstandoff: 10,
    showline: true, mirror: true, linecolor: '#000000', linewidth: 1.4,
    showgrid: false, zeroline: false, fixedrange: true,
    tickfont: { family: FONT, size: 20, color: '#000000' }
  };

  // shaded fire season
  shapes.push({
    type: 'rect', layer: 'below', xref: 'x' + sfx, yref: 'y' + sfx,
    x0: fireSeason[0], x1: fireSeason[1], y0: lo, y1: hi,
    fillcolor: '#BEBEBE', line: { width: 0 }
  });
  // zero reference line
  shapes.push({
    type: 'line', layer: 'below', xref: 'x' + sfx + ' domain', yref: 'y' + sfx,
    x0: 0, x1: 1, y0: 0, y1: 0,
    line: { color: '#000000', width: 1.6 }
  });

  p.series.forEach((ys, k) => {
    traces.push({
      type: 'scatter', mode: 'lines', x: DOY, y: ys,
      xaxis: 'x' + sfx, yaxis: 'y' + sfx,
      line: { color: lineColors[k], width: 2.2 },
      hoverinfo: 'skip'
    });
  });

  const cx = (colLeftPx[col] + colRightPx[col]) / 2;
  const cy = (rowTopPx[row] + rowBottomPx[row]) / 2;
  annotations.push({
    text: xTitle, xref: 'paper', yref: 'paper',
    x: cx / W, y: (H - (rowBottomPx[row] + 89.3)) / H,
    xanchor: 'center', yanchor: 'middle', showarrow: false,
    font: { family: FONT, size: 20, color: '#000000' }
  });
  annotations.push({
    text: yTitles[i], xref: 'paper', yref: 'paper',
    x: (colLeftPx[col] - 86.7) / W, y: (H - cy) / H,
    xanchor: 'center', yanchor: 'middle', textangle: -90, showarrow: false,
    font: { family: FONT, size: 20, color: '#000000' }
  });
});

Plotly.newPlot('chart', traces, layout, { staticPlot: true, displayModeBar: false });
</script>
</body>
</html>
